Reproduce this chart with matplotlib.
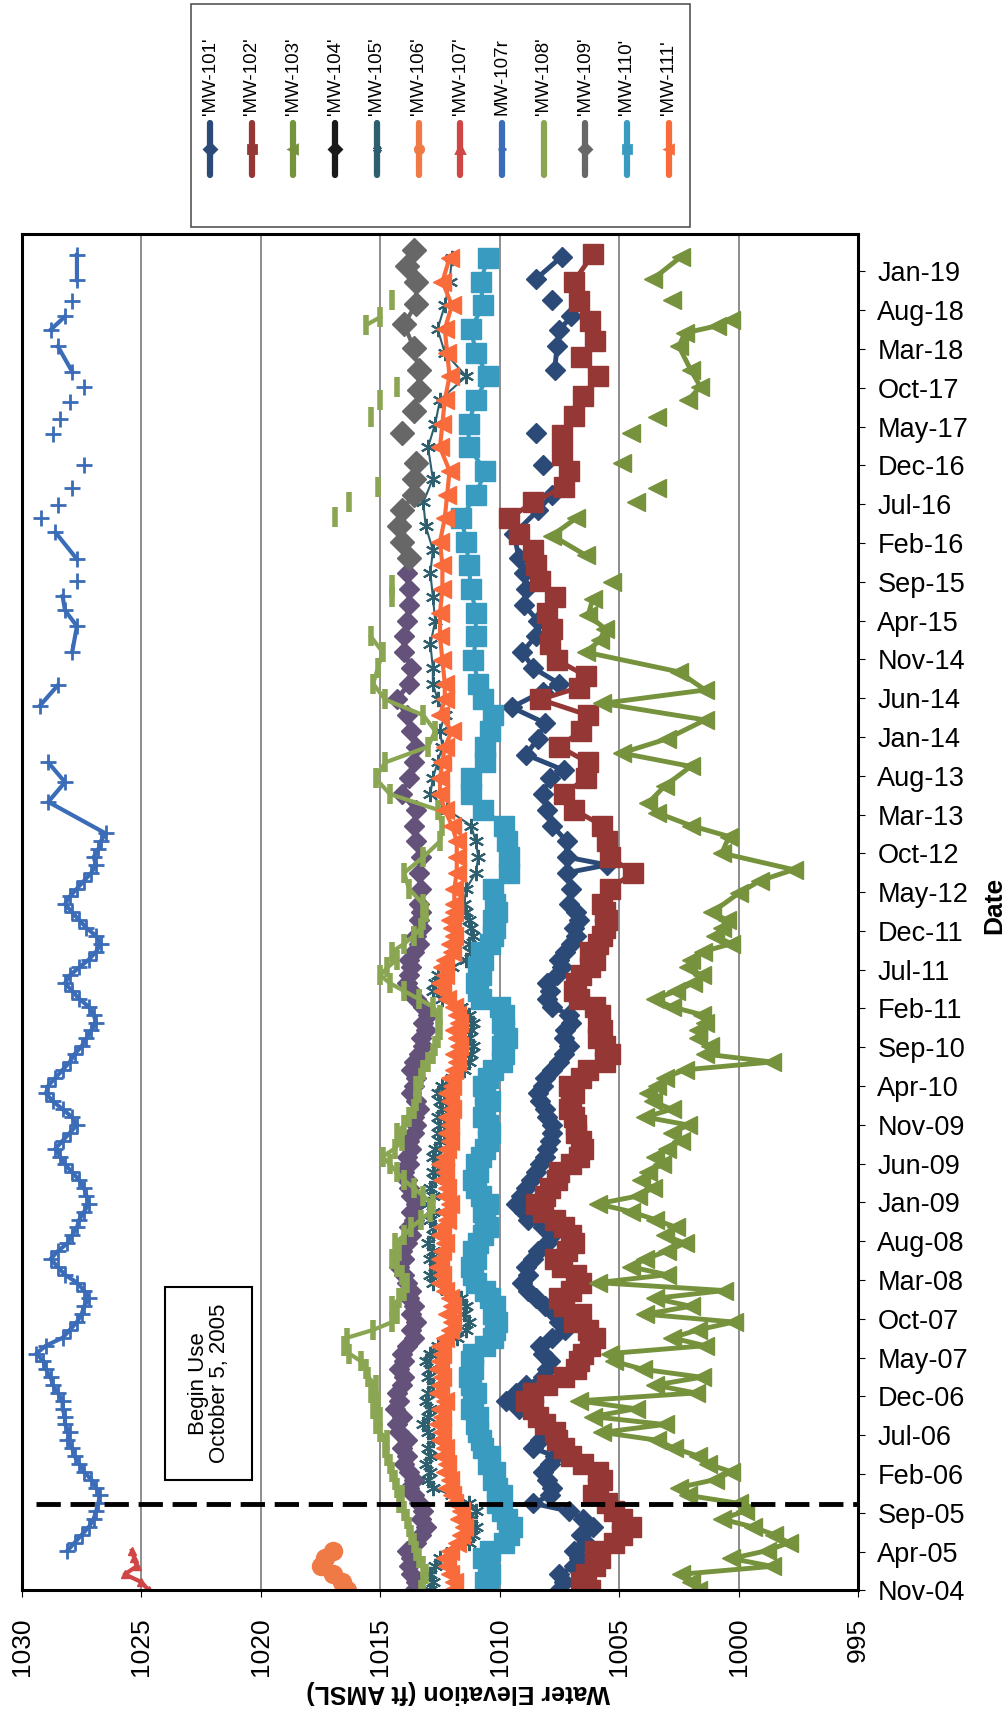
import numpy as np
import pandas as pd
import matplotlib
matplotlib.use('Agg')
import matplotlib.pyplot as plt
import matplotlib.dates as mdates
from matplotlib.lines import Line2D
from matplotlib.patches import Rectangle

plt.rcParams['font.family'] = ['Liberation Sans', 'DejaVu Sans']
nan = np.nan

# ---------------- DATA ----------------
# positions are reading steps (one step ~ one month) counted from Nov-2004
STEP_DAYS = 30.92
mw101_monthly = [1007.5, 1007.3, 1007.5, 1006.9, 1006.7, 1006.9, 1006.4, 1006.6, 1006.1, 1006.5,
                 1007.1, 1008.6, 1007.9, 1007.8, 1008.0, 1008.2, 1007.9, 1007.7, 1008.6, 1008.3,
                 1008.0, 1008.1, 1008.5, 1009.2, 1009.75, 1009.3, 1008.9, 1008.2, 1008.0, 1007.9,
                 1008.2, 1008.3, 1007.8, 1007.25, 1007.5, 1007.7, 1008.1, 1008.5, 1008.8, 1009.05,
                 1008.8, 1008.9, 1008.6, 1008.4, 1008.0, 1007.8, 1008.2, 1008.8, 1009.0, 1009.3,
                 1009.1, 1008.9, 1008.7, 1008.5, 1008.3, 1008.1, 1008.0, 1007.9, 1007.8,
                 1007.8, 1008.0, 1008.1, 1008.3, 1008.4, 1008.2, 1008.1, 1007.8, 1007.5, 1007.3,
                 1007.1, 1007.3, 1007.25, 1007.0, 1007.1, 1007.8, 1008.0, 1007.9, 1008.0, 1007.6,
                 1007.4, 1007.5, 1007.25, 1007.0, 1006.8, 1006.9, 1006.7, 1006.8]
mw101_late_m = [87, 89, 91, 92, 93, 95, 97, 99, 101, 103, 104, 106, 108, 110, 112, 114, 115, 117, 119, 121,
                123, 125, 127, 129, 131, 134, 137, 139, 141, 142.7, 144, 146.8, 148, 154.8, 157.8, 159.9,
                161.6, 162.5, 163.7, 165, 166.3, 169.2]
mw101_late_v = [1007.1, 1007.0, 1007.2, 1005.5, 1007.2, 1007.2, 1007.8, 1008.0, 1008.2, 1007.9,
                1007.3, 1008.9, 1008.4, 1008.1, 1009.5, 1008.2, 1007.5, 1008.6, 1009.05, 1008.5,
                1008.4, 1009.0, 1008.9, 1009.0, 1009.2, 1009.4, 1008.4, 1007.8, nan, 1008.2,
                nan, 1008.5, nan, 1007.7, 1007.6, 1007.5, 1007.0, nan, 1007.8, nan, 1008.5, 1007.4]

mw102_monthly = [1006.2, 1006.6, 1006.4, 1006.0, 1005.8, 1006.0, 1005.2, 1004.9, 1004.5, 1004.9,
                 1005.2, 1005.5, 1006.1, 1005.9, 1005.7, 1005.9, 1006.5, 1007.0, 1007.3, 1007.6,
                 1007.7, 1008.1, 1008.4, 1008.6, 1008.9, 1008.6, 1008.0, 1007.3, 1006.8, 1006.7,
                 1006.5, 1006.2, 1006.0, 1006.3, 1006.9, 1006.6, 1007.3, 1007.5, 1007.0, 1006.6,
                 1006.8, 1007.4, 1007.7, 1007.2, 1006.9, 1007.0, 1007.3, 1007.7, 1008.2, 1008.5,
                 1008.1, 1007.9, 1007.6, 1007.5, 1007.0, 1006.7, 1006.5, 1006.6, 1006.8,
                 1006.8, 1006.9, 1007.1, 1007.0, 1006.9, 1007.1, 1006.6, 1006.3, 1005.6, 1005.4,
                 1005.6, 1005.9, 1005.7, 1005.9, 1005.8, 1006.0, 1006.7, 1006.9, 1006.8, 1006.6,
                 1006.2, 1006.0, 1006.2, 1005.9, 1005.7, 1005.6, 1005.5, 1005.6]
mw102_late_m = [87, 89, 91, 93, 95, 97, 99, 101, 103, 105, 107, 109, 111, 113, 114.5,
                116, 118, 120, 122, 124, 126, 128, 130, 132, 134, 136, 138, 140, 142, 144,
                146.5, 149, 151.5, 154, 156.5, 158.5, 161, 163.5, 166, 169.5]
mw102_late_v = [1005.7, 1005.4, 1004.4, 1005.4, 1005.5, 1005.7, 1006.9, 1007.3, 1006.4, 1006.3,
                1007.5, 1006.6, 1006.3, 1008.3, 1006.7, 1006.4, 1007.6, 1007.9, 1007.8, 1008.0,
                1007.7, 1008.3, 1008.5, 1008.6, 1009.2, 1009.6, 1008.6, 1007.3, 1007.1, 1007.4,
                1007.4, 1006.9, 1006.5, 1005.9, 1006.6, 1006.0, 1006.2, 1006.7, 1006.9, 1006.1]

mw103_monthly = [1001.7, 1002.0, 1002.4, 998.6, 1000.3, 998.8, 997.9, 998.5, 999.4, 1000.7,
                 999.75, 1000.0, 1002.1, 1002.5, 1001.0, 1000.3, 1001.3, 1001.7, 1002.7, 1003.4,
                 1005.7, 1003.1, 1006.1, 1004.3, 1006.7, 1001.8, 1003.5, 1001.55, 1004.0, 1005.2,
                 1005.4, 1001.4, 1002.8, 1001.7, 1000.2, 1003.9, 1002.0, 1003.5, 1000.6, 1005.9,
                 1003.0, 1004.5, 1003.9, 1003.0, 1002.25, 1003.1, 1002.6, 1003.5, 1004.5, 1005.9,
                 1004.2, 1003.6, 1004.1, 1003.8, 1003.2, 1003.5, 1003.0, 1002.4, 1002.8,
                 1002.1, 1003.9, 1002.8, 1003.6, 1003.8, 1003.4, 1003.1, 1002.25, 998.6, 1001.4,
                 1001.2, 1001.7, 1001.7, 1001.4, 1001.55, 1002.8, 1003.5, 1002.6, 1001.9, 1001.55,
                 1002.1, 1002.0, 1001.5, 1000.3, 1001.0, 1000.7, 1000.5, 1001.1]
mw103_late_m = [88.4, 90, 91.4, 93.5, 95.6, 97, 98.6, 99.8, 102, 104.5,
                106.2, 108, 110.4, 112.5, 114.2, 116.5, 119, 120.5, 122, 123.7,
                125.8, 126.9, 127.9, 129, 131.3, 133.8, 136, 137, 138.1, 139,
                139.8, 141, 143, 145, 146.8, 148, 148.9, 150, 151, 152.7,
                154.8, 157.8, 159.5, 160.4, 161.2, 162.5, 163.7, 165, 166.3, 169.2]
mw103_late_v = [1000.0, 999.1, 997.7, 1000.7, 1000.4, 1002.0, 1003.4, 1003.8, 1003.1, 1002.0,
                1004.9, 1003.0, 1001.4, 1005.7, 1001.4, 1002.5, 1006.4, 1005.8, 1005.6, 1006.3,
                1006.1, nan, 1005.3, nan, 1006.4, 1007.8, 1006.8, nan, 1004.3, nan,
                1003.4, nan, 1004.9, nan, 1004.5, nan, 1003.4, nan, 1002.1, 1001.6,
                1002.0, 1002.5, 1002.25, 1000.9, 1000.3, nan, 1002.8, nan, 1003.6, 1002.4]

mw104_monthly = [1013.6, 1013.5, 1013.7, 1013.8, 1013.7, 1013.9, 1013.5, 1013.3, 1013.1, 1013.3,
                 1013.2, 1013.4, 1013.6, 1013.8, 1013.6, 1013.8, 1014.0, 1013.9, 1014.1, 1013.9,
                 1014.2, 1014.3, 1014.1, 1014.4, 1014.2, 1014.3, 1014.1, 1014.0, 1014.2, 1014.0,
                 1014.1, 1013.9, 1013.6, 1013.7, 1013.5, 1013.7, 1013.6, 1013.8, 1013.7, 1013.9,
                 1014.0, 1014.2, 1014.0, 1014.1, 1013.9, 1013.7, 1013.8, 1013.6, 1013.7, 1013.5,
                 1013.7, 1013.8, 1013.9, 1014.0, 1013.8, 1013.9, 1013.7, 1013.8, 1013.6,
                 1013.5, 1013.6, 1013.4, 1013.5, 1013.7, 1013.6, 1013.5, 1013.7, 1013.6, 1013.4,
                 1013.2, 1013.3, 1013.1, 1013.2, 1013.0, 1013.2, 1013.5, 1013.7, 1013.9, 1013.8,
                 1013.7, 1013.8, 1013.6, 1013.4, 1013.5, 1013.3, 1013.4, 1013.3]
mw104_late_m = [87, 89, 91, 93, 95, 97, 99, 101, 103, 105, 107, 109, 111, 113, 115, 117, 119, 121,
                123, 125, 127, 129]
mw104_late_v = [1013.4, 1013.3, 1013.4, 1013.3, 1013.5, 1013.6, 1013.5, 1014.1, 1013.8, 1013.6,
                1013.5, 1013.7, 1013.9, 1014.3, 1013.8, 1013.7, 1014.0, 1014.0, 1013.9, 1013.8,
                1013.8, 1013.9]

mw105_monthly = [1012.9, 1012.8, 1012.9, 1012.7, 1012.5, 1012.0, 1011.3, 1011.1, 1011.0, 1011.2,
                 1011.0, 1011.3, 1012.0, 1012.8, 1013.0, 1012.9, 1013.1, 1012.9, 1013.0, 1012.8,
                 1013.0, 1013.2, 1013.0, 1012.9, 1013.1, 1013.0, 1012.8, 1013.0, 1012.9, 1013.1,
                 1012.9, 1012.6, 1011.8, 1011.4, 1011.3, 1011.5, 1011.4, 1011.6, 1012.2, 1012.8,
                 1012.9, 1012.7, 1012.9, 1012.8, 1013.0, 1012.8, 1012.7, 1012.9, 1012.8, 1013.0,
                 1012.8, 1012.9, 1012.7, 1012.8, 1012.6, 1012.8, 1012.7, 1012.5, 1012.6,
                 1012.5, 1012.6, 1012.4, 1012.5, 1012.6, 1012.4, 1012.0, 1011.5, 1011.3, 1011.2,
                 1011.1, 1011.3, 1011.2, 1011.1, 1011.3, 1011.6, 1012.4, 1012.8, 1012.7, 1012.6,
                 1012.0, 1011.4, 1011.2, 1011.3, 1011.1, 1011.2, 1011.3, 1011.4]
mw105_late_m = [87, 89, 91, 93, 95, 97, 99, 101, 103, 105, 107, 109, 111, 113, 115,
                117, 120, 123, 126, 129, 132, 135, 138, 141,
                145, 148, 151, 154, 157, 160, 163, 166, 169]
mw105_late_v = [1011.5, 1011.4, 1011.0, 1010.9, 1011.0, 1011.2, 1012.2, 1012.9, 1012.8, 1012.6,
                1012.4, 1012.5, 1012.3, 1012.6, 1012.8,
                1012.8, 1012.9, 1012.7, 1012.8, 1012.9, 1012.8, 1013.1, 1013.2, 1012.8,
                1013.0, 1012.7, 1012.5, 1011.4, 1012.3, 1012.6, 1012.3, 1012.1, 1012.0]

mw106_m = [0, 1, 2, 3, 4, 5]
mw106_v = [1016.4, 1016.6, 1017.0, 1017.5, 1017.3, 1017.0]

mw107_m = [0, 1, 2, 3, 4, 5]
mw107_v = [1024.7, 1025.0, 1025.7, 1025.2, 1025.3, 1025.4]

mw107r_start = 5
mw107r_monthly = [1028.1, 1027.8, 1027.5, 1027.2, 1027.0, 1026.9, 1026.8, 1026.75, 1026.9, 1027.1,
                  1027.4, 1027.6, 1027.8, 1027.9, 1028.1, 1028.0, 1028.2, 1028.2, 1028.3, 1028.3,
                  1028.5, 1028.7, 1028.8, 1029.0, 1029.1, 1029.4, 1029.0, 1028.3, 1028.0, 1027.7,
                  1027.5, 1027.4, 1027.2, 1027.4, 1027.7, 1028.2, 1028.5, 1028.8, 1028.5, 1028.1,
                  1027.9, 1027.7, 1027.6, 1027.4, 1027.2,
                  1027.3, 1027.4, 1027.6, 1027.9, 1028.2, 1028.4, 1028.6, 1028.3, 1028.0, 1027.7,
                  1027.9, 1028.3, 1028.7, 1029.0, 1028.9, 1028.6, 1028.3, 1028.0, 1027.8, 1027.5,
                  1027.3, 1027.1, 1026.9, 1027.0, 1027.2, 1027.6, 1027.9, 1028.2, 1028.0, 1027.6,
                  1027.2, 1026.9, 1026.7, 1026.9, 1027.3, 1027.6, 1027.9, 1028.2, 1028.0, 1027.7,
                  1027.4, 1027.1, 1026.9, 1027.0, 1026.8, 1026.7, 1026.5]
mw107r_late_m = [100, 102.5, 105, 108, 112.2, 114.8, 117, 119, 122.3, 124.3,
                 126.1, 127, 128, 129, 130.8, 134.2, 135, 136, 136.8, 137.7,
                 138.8, 139.8, 141, 142.8, 145, 146.7, 147.6, 148.6, 149.6, 150.7,
                 151.7, 152.7, 153.6, 154.6, 157.8, 158.8, 159.9, 161.6, 162.5, 163.5,
                 165, 166.2, 169.4]
mw107r_late_v = [1028.9, 1028.2, 1028.9, nan, 1029.25, 1028.5, nan, 1027.9, 1027.7, 1028.2,
                 1028.3, nan, 1027.7, nan, 1027.7, 1028.6, nan, 1029.2, nan, 1028.5,
                 nan, 1027.9, nan, 1027.4, nan, 1028.7, nan, 1028.4, nan, 1028.0,
                 nan, 1027.4, nan, 1027.9, 1028.5, nan, 1028.8, 1028.2, nan, 1027.9,
                 nan, 1027.7, 1027.7]

mw108_monthly = [1013.3, 1013.2, 1013.1, 1013.2, 1013.4, 1013.5, 1013.6, 1013.7, 1013.8, 1013.9,
                 1014.0, 1014.2, 1014.1, 1014.3, 1014.4, 1014.5, 1014.6, 1014.7, 1014.8, 1014.7,
                 1015.0, 1015.2, 1015.0, 1015.3, 1015.1, 1015.4, 1015.2, 1015.5, 1015.6, 1015.8,
                 1016.3, 1016.5, 1016.4, 1015.3, 1014.5, 1014.3, 1014.5,
                 1014.2, 1014.0, 1013.9, 1014.1, 1014.3, 1014.5, 1014.2, 1014.4, 1014.0, 1013.7,
                 1013.3, 1012.9, 1012.8, 1013.2, 1013.6, 1014.0, 1014.3, 1014.6, 1014.9, 1014.4,
                 1014.1, 1014.3,
                 1014.0, 1013.8, 1013.6, 1013.5, 1013.4, 1013.5, 1013.3, 1013.2, 1013.0, 1012.8,
                 1012.7, 1012.6, 1012.5, 1012.6, 1012.5, 1012.8, 1013.4, 1014.0, 1014.6, 1015.0,
                 1014.7, 1014.3, 1014.5, 1014.0, 1013.6, 1013.3, 1013.2, 1013.1]
mw108_late_m = [87, 89, 91, 93, 95, 97, 99, 101, 103, 105, 107, 109, 111, 113, 115, 117, 119, 121,
                123, 126, 127.5, 130, 136.2, 137, 138, 139, 140, 144,
                148.9, 150, 151, 152, 152.7, 156, 160.5, 161.5, 162.5, 163.7]
mw108_late_v = [1013.2, 1013.8, 1014.0, 1013.2, 1012.5, 1012.4, 1012.6, 1014.6, 1015.2, 1014.8,
                1013.0, 1012.7, 1013.2, 1014.8, 1015.3, 1015.1, 1014.9, 1015.4,
                nan, 1014.5, 1014.5, nan, 1016.9, nan, 1016.3, nan, 1015.1, nan,
                1015.4, nan, 1015.0, nan, 1014.3, nan, 1015.6, 1015.0, nan, 1014.5]

mw109_m = [131, 133, 135, 137, 139, 141, 143, 145, 146.8, 148, 149.6, 152.2, 154.8, 157.6, 160.6,
           163.2, 166, 168, 170]
mw109_v = [1013.8, 1014.1, 1014.2, 1014.1, 1013.6, 1013.6, 1013.5, nan, 1014.1, nan, 1013.6,
           1013.4, 1013.4, 1013.6, 1014.0, 1013.5, 1013.5, 1013.9, 1013.6]

mw110_monthly = [1010.5, 1010.6, 1010.4, 1010.5, 1010.7, 1010.4, 1009.8, 1009.6, 1009.5, 1009.7,
                 1009.9, 1010.1, 1009.9, 1010.1, 1010.3, 1010.2, 1010.5, 1010.4, 1010.7, 1010.8,
                 1010.9, 1011.0, 1010.9, 1011.2, 1011.1, 1011.0, 1011.2, 1011.3, 1011.1, 1011.2,
                 1011.1, 1010.6, 1010.3, 1010.2, 1010.1, 1010.3, 1010.2, 1010.4, 1010.6, 1011.0,
                 1011.1, 1011.2, 1011.0, 1011.1, 1010.9, 1010.7, 1010.5, 1010.6, 1010.7, 1010.5,
                 1010.8, 1011.0, 1011.1, 1010.9, 1011.0, 1010.8, 1010.6, 1010.5, 1010.4,
                 1010.5, 1010.7, 1010.6, 1010.4, 1010.6, 1010.7, 1010.5, 1010.3, 1009.9, 1009.8,
                 1009.9, 1009.7, 1009.8, 1009.9, 1009.8, 1010.0, 1010.8, 1010.9, 1011.0, 1010.8,
                 1010.9, 1010.7, 1010.8, 1010.4, 1010.3, 1010.2, 1010.3, 1010.1]
mw110_late_m = [87, 89, 91, 93, 95, 97, 99, 101, 103, 105, 107, 109, 111, 113,
                115, 118, 121, 124, 127, 130, 133, 136, 139, 142, 145, 148, 151, 154, 157, 160,
                163, 166, 169]
mw110_late_v = [1010.2, 1010.3, 1009.6, 1009.6, 1009.7, 1009.8, 1010.7, 1011.2, 1011.2, 1010.6,
                1010.6, 1010.4, 1010.3, 1010.7,
                1010.9, 1011.1, 1011.0, 1011.0, 1011.2, 1011.3, 1011.4, 1011.6, 1011.0, 1010.6,
                1011.3, 1011.3, 1011.0, 1010.5, 1011.0, 1011.2, 1010.7, 1010.8, 1010.5]

mw111_monthly = [1012.0, 1011.9, 1012.1, 1012.2, 1012.3, 1012.1, 1011.8, 1011.6, 1011.5, 1011.7,
                 1011.6, 1011.9, 1012.0, 1012.2, 1012.1, 1012.3, 1012.2, 1012.4, 1012.3, 1012.5,
                 1012.4, 1012.6, 1012.4, 1012.5, 1012.3, 1012.6, 1012.5, 1012.4, 1012.6, 1012.5,
                 1012.4, 1012.5, 1012.3, 1012.1, 1012.0, 1012.2, 1012.0, 1012.1, 1012.3, 1012.5,
                 1012.4, 1012.6, 1012.5, 1012.4, 1012.3, 1012.5, 1012.4, 1012.2, 1012.3, 1012.1,
                 1012.3, 1012.2, 1012.4, 1012.3, 1012.5, 1012.3, 1012.2, 1012.1, 1012.2,
                 1012.1, 1012.2, 1012.0, 1012.1, 1012.2, 1012.0, 1012.1, 1011.9, 1011.8, 1011.9,
                 1011.7, 1011.8, 1011.9, 1011.7, 1011.8, 1011.9, 1012.2, 1012.4, 1012.5, 1012.3,
                 1012.4, 1012.3, 1012.0, 1012.1, 1011.9, 1012.0, 1012.1, 1011.9]
mw111_late_m = [87, 89, 91, 93, 95, 97, 99, 101, 103, 105, 107, 109, 111, 113,
                115, 118, 121, 124, 127, 130, 133, 136, 139, 142, 145, 148, 151, 154, 157, 160,
                163, 166, 169]
mw111_late_v = [1011.9, 1011.9, 1011.8, 1011.8, 1011.8, 1012.0, 1012.3, 1012.5, 1012.5, 1012.4,
                1012.3, 1012.0, 1012.5, 1012.3,
                1012.3, 1012.4, 1012.5, 1012.5, 1012.4, 1012.4, 1012.5, 1012.3, 1012.2, 1012.1,
                1012.5, 1012.4, 1012.3, 1012.1, 1012.2, 1012.3, 1012.0, 1012.4, 1012.1]

well_labels = ["'MW-101'", "'MW-102'", "'MW-103'", "'MW-104'", "'MW-105'", "'MW-106'",
               "'MW-107'", "MW-107r", "'MW-108'", "'MW-109'", "'MW-110'", "'MW-111'"]

x_ticks = [1030, 1025, 1020, 1015, 1010, 1005, 1000, 995]
date_axis_start = '2004-11-01'
date_axis_end = '2019-05-27'
begin_use_date = '2005-10-05'
begin_use_text = 'Begin Use\nOctober 5, 2005'

# ---------------- assemble ----------------
def series(monthly=None, late_m=None, late_v=None, start=0):
    m, v = [], []
    if monthly is not None:
        m += [start + i for i in range(len(monthly))]
        v += list(monthly)
    if late_m is not None:
        assert len(late_m) == len(late_v), (len(late_m), len(late_v))
        m += list(late_m)
        v += list(late_v)
    return np.array(m, float), np.array(v, float)

data = [
    series(mw101_monthly, mw101_late_m, mw101_late_v),
    series(mw102_monthly, mw102_late_m, mw102_late_v),
    series(mw103_monthly, mw103_late_m, mw103_late_v),
    series(mw104_monthly, mw104_late_m, mw104_late_v),
    series(mw105_monthly, mw105_late_m, mw105_late_v),
    series(None, mw106_m, mw106_v),
    series(None, mw107_m, mw107_v),
    series(mw107r_monthly, mw107r_late_m, mw107r_late_v, start=mw107r_start),
    series(mw108_monthly, mw108_late_m, mw108_late_v),
    series(None, mw109_m, mw109_v),
    series(mw110_monthly, mw110_late_m, mw110_late_v),
    series(mw111_monthly, mw111_late_m, mw111_late_v),
]

styles = [
    dict(color='#2B4A78', marker='D', ms=10, lw=3.5),
    dict(color='#953735', marker='s', ms=14, lw=3.5),
    dict(color='#76923C', marker='<', ms=13, lw=3.5),
    dict(color='#64527A', marker='D', ms=10, lw=3.5),
    dict(color='#2D5F6E', marker=(6, 2, 0), ms=11, lw=1.5, mew=1.5),
    dict(color='#F07A45', marker='o', ms=13, lw=3),
    dict(color='#D04545', marker='^', ms=6, lw=3),
    dict(color='#3B6CB7', marker='+', ms=12, lw=3, mew=2),
    dict(color='#8BA652', marker='|', ms=14, lw=3, mew=4),
    dict(color='#676767', marker='D', ms=12, lw=3),
    dict(color='#3A9BC1', marker='s', ms=15, lw=3),
    dict(color='#FA6B3C', marker='<', ms=13, lw=3),
]

START = mdates.date2num(pd.Timestamp(date_axis_start))
def m2d(m):
    return START + np.asarray(m, float) * STEP_DAYS

W, H = 1008, 1709
fig = plt.figure(figsize=(W / 100, H / 100), dpi=100)
ax = fig.add_axes([22 / W, 119 / H, (858 - 22) / W, (1590 - 234) / H])

for (m, v), st in zip(data, styles):
    st = dict(st)
    c = st.pop('color')
    ax.plot(v, m2d(m), color=c, mfc=c, mec=c, solid_joinstyle='round', **st)

ax.set_xlim(1030, 995)
ax.set_ylim(START, mdates.date2num(pd.Timestamp(date_axis_end)))
ax.set_xticks(x_ticks)
ax.set_xticklabels([str(t) for t in x_ticks], rotation=90, fontsize=19)
ax.grid(axis='x', color='#7a7a7a', lw=1.2)
ax.set_axisbelow(True)

tick_dates = pd.date_range(date_axis_start, '2019-01-01', freq='5MS')
ax.yaxis.tick_right()
ax.set_yticks(mdates.date2num(tick_dates))
ax.yaxis.set_major_formatter(mdates.DateFormatter('%b-%y'))
ax.tick_params(axis='y', labelsize=19.5, direction='out', length=5, pad=9)
ax.tick_params(axis='x', direction='out', length=5, pad=15)
for s in ax.spines.values():
    s.set_linewidth(2.2)
    s.set_color('black')

# Begin use line
yb = mdates.date2num(pd.Timestamp(begin_use_date))
ax.plot([1029.4, 995], [yb, yb], color='black', lw=3.5, linestyle=(0, (5, 2)),
        zorder=20, clip_on=False)

# Begin use text box
fig.add_artist(Rectangle((165 / W, 1 - 1480 / H), 87 / W, 193 / H, transform=fig.transFigure,
                         facecolor='white', edgecolor='black', lw=1.5, zorder=25))
fig.text(209 / W, 1 - 1383.5 / H, begin_use_text, rotation=90, ha='center', va='center',
         fontsize=16, multialignment='center', zorder=26, linespacing=1.0)

# axis titles
fig.text(458 / W, 1 - 1692 / H, 'Water Elevation (ft AMSL)', rotation=180, ha='center',
         va='center', fontsize=18, fontweight='bold')
fig.text(994 / W, 1 - 905 / H, 'Date', rotation=90, ha='center', va='center',
         fontsize=19, fontweight='bold')

# legend (rotated layout)
fig.add_artist(Rectangle((191 / W, 1 - 227 / H), (690 - 191) / W, (227 - 4) / H,
                         transform=fig.transFigure, facecolor='white', edgecolor='#555555', lw=1.2))
for i, (lab, st) in enumerate(zip(well_labels, styles)):
    xp = (210 + i * 41.7) / W
    fig.text(xp, 1 - 115 / H, lab, rotation=90, ha='center', va='bottom', fontsize=13.5)
    c = st['color'] if i != 3 else '#1a1a1a'
    fig.add_artist(Line2D([xp, xp], [1 - 123 / H, 1 - 175 / H], transform=fig.transFigure,
                          color=c, lw=4.5, solid_capstyle='round'))
    fig.add_artist(Line2D([xp], [1 - 149 / H], transform=fig.transFigure, color=c,
                          marker=st['marker'], ms=6, mfc=c, mec=c, mew=2, lw=0))

fig.savefig('out.png', dpi=100)
